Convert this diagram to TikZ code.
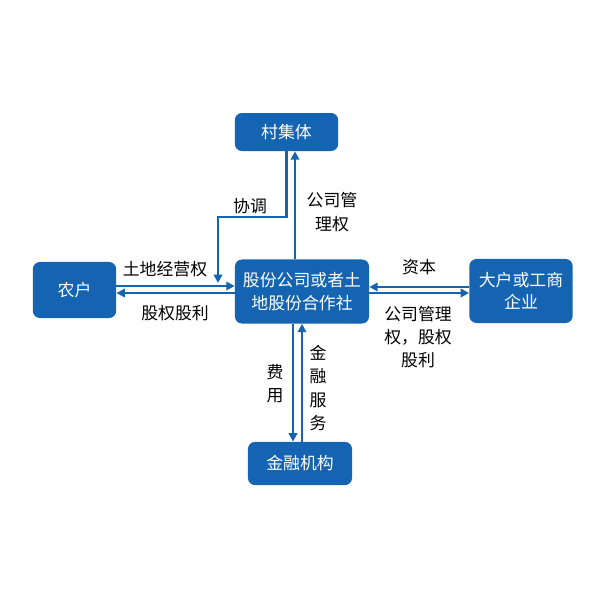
\documentclass[tikz,border=0pt]{standalone}
\usepackage{fontspec}
\setmainfont{Noto Sans CJK SC}
\usetikzlibrary{arrows.meta}
\definecolor{boxblue}{RGB}{20,100,178}

\begin{document}
\begin{tikzpicture}[x=0.025cm, y=-0.025cm,
  box/.style={rectangle, rounded corners=5pt, fill=boxblue, text=white, align=center, inner sep=0pt, font=\fontsize{12}{16}\selectfont},
  lab/.style={align=center, inner sep=0pt, font=\fontsize{12}{16.5}\selectfont},
  arr/.style={boxblue, line width=1.5pt, -{Triangle[length=6pt, width=6pt]}}]
\useasboundingbox[fill=white] (0,0) rectangle (600,600);

\node[box, minimum width=2.58cm, minimum height=0.95cm] (cun) at (286.5, 132) {村集体};
\node[box, minimum width=2.08cm, minimum height=1.4cm] (nong) at (74.5, 290) {农户};
\node[box, minimum width=3.35cm, minimum height=1.6cm] (gufen) at (302, 291.5) {股份公司或者土\\地股份合作社};
\node[box, minimum width=2.58cm, minimum height=1.6cm] (dahu) at (521, 291) {大户或工商\\企业};
\node[box, minimum width=2.6cm, minimum height=1.08cm] (jinrong) at (300, 463.5) {金融机构};

%\draw[gray] (0,0) grid[step=50] (600,600);
\coordinate (xt) at (218, 283);
\draw[arr] (cun.south) -- ++(0, 66) -| (xt);
\draw[arr] (gufen.north -| 295,0) -- (cun.south -| 295,0);

\draw[arr] (nong.east |- 0,286) -- (gufen.west |- 0,286);
\draw[arr] (gufen.west |- 0,293) -- (nong.east |- 0,293);
\draw[arr] (dahu.west |- 0,287) -- (gufen.east |- 0,287);
\draw[arr] (gufen.east |- 0,293) -- (dahu.west |- 0,293);

\draw[arr] (gufen.south -| 293,0) -- (jinrong.north -| 293,0);
\draw[arr] (jinrong.north -| 302,0) -- (gufen.south -| 302,0);

\node[lab] (xietiao) at (250, 206) {协调};
\node[lab] (guanli) at (332, 212) {公司管\\理权};
\node[lab] (tudi) at (165, 269) {土地经营权};
\node[lab] (guli) at (175, 313) {股权股利};
\node[lab] (ziben) at (419, 267) {资本};
\node[lab] (guanli2) at (418, 337) {公司管理\\权，股权\\股利};
\node[lab] (feiyong) at (275, 384) {费\\用};
\node[lab] (fuwu) at (318, 388) {金\\融\\服\\务};

\end{tikzpicture}
\end{document}
